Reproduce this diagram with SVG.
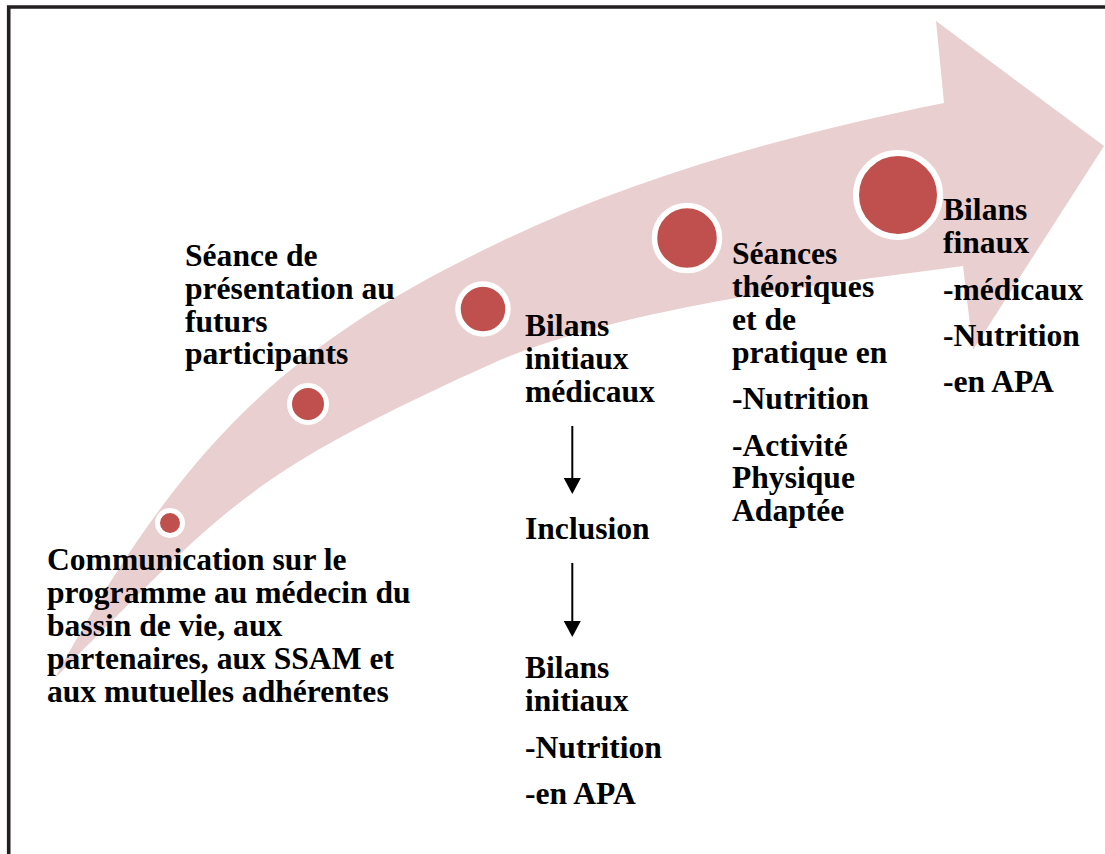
<svg xmlns="http://www.w3.org/2000/svg" width="1105" height="854" viewBox="0 0 1105 854">
<style>
  .t { font-family: "Liberation Serif", "Times New Roman", serif; font-weight: bold; font-size: 31.6px; fill: #000; }
  .dot { fill: #C0504D; stroke: #FFFFFF; }
  .band { fill: #E9CFCF; }
  .conn { stroke: #000; stroke-width: 2; fill: none; }
</style>
<defs>
  <marker id="ah" viewBox="0 0 17 17" refX="1" refY="8.5" markerWidth="17" markerHeight="17" markerUnits="userSpaceOnUse" orient="auto">
    <path d="M0,0 L16,8.5 L0,17 z" fill="#000"/>
  </marker>
</defs>
<rect x="0" y="0" width="1105" height="854" fill="#FFFFFF"/>
<path d="M8.7,860 L8.7,7 L1110,7" fill="none" stroke="#231F20" stroke-width="3.6"/>

<g id="arrow-band">
  <path class="band" d="M55,678 C187,432 302,337 500,242 C635,177 794,133 944,103 L936,21 L1104,146 L973,350 L963,266 C813,286 636,305 500,360 C245,475 230,503 55,678 Z"/>
</g>

<g id="step1">
  <circle class="dot" cx="170" cy="523" r="12.5" stroke-width="5"/>
  <text class="t" x="47" y="570">Communication sur le</text>
  <text class="t" x="47" y="603">programme au médecin du</text>
  <text class="t" x="47" y="636">bassin de vie, aux</text>
  <text class="t" x="47" y="669">partenaires, aux SSAM et</text>
  <text class="t" x="47" y="702">aux mutuelles adhérentes</text>
</g>

<g id="step2">
  <circle class="dot" cx="308" cy="404" r="18.5" stroke-width="5"/>
  <text class="t" x="185" y="265.5">Séance de</text>
  <text class="t" x="185" y="298.5">présentation au</text>
  <text class="t" x="185" y="331.5">futurs</text>
  <text class="t" x="185" y="364">participants</text>
</g>

<g id="step3">
  <circle class="dot" cx="483" cy="309" r="25" stroke-width="5.5"/>
  <text class="t" x="525" y="336">Bilans</text>
  <text class="t" x="525" y="369">initiaux</text>
  <text class="t" x="525" y="402">médicaux</text>
</g>

<g id="inclusion">
  <text class="t" x="525" y="539">Inclusion</text>
</g>

<g id="bilans-initiaux">
  <text class="t" x="525" y="678">Bilans</text>
  <text class="t" x="525" y="711">initiaux</text>
  <text class="t" x="525" y="758">-Nutrition</text>
  <text class="t" x="525" y="804">-en APA</text>
</g>

<g id="step4">
  <circle class="dot" cx="687" cy="238" r="32.5" stroke-width="5.5"/>
  <text class="t" x="732" y="264">Séances</text>
  <text class="t" x="732" y="297">théoriques</text>
  <text class="t" x="732" y="330">et de</text>
  <text class="t" x="732" y="363">pratique en</text>
  <text class="t" x="732" y="409">-Nutrition</text>
  <text class="t" x="732" y="456">-Activité</text>
  <text class="t" x="732" y="488">Physique</text>
  <text class="t" x="732" y="521">Adaptée</text>
</g>

<g id="step5">
  <circle class="dot" cx="898" cy="195" r="42" stroke-width="6"/>
  <text class="t" x="943" y="220">Bilans</text>
  <text class="t" x="943" y="253">finaux</text>
  <text class="t" x="943" y="300">-médicaux</text>
  <text class="t" x="943" y="346">-Nutrition</text>
  <text class="t" x="943" y="392">-en APA</text>
</g>

<g id="connectors">
  <line class="conn" x1="572.3" y1="426" x2="572.3" y2="479" marker-end="url(#ah)"/>
  <line class="conn" x1="572.3" y1="563" x2="572.3" y2="622" marker-end="url(#ah)"/>
</g>
</svg>
